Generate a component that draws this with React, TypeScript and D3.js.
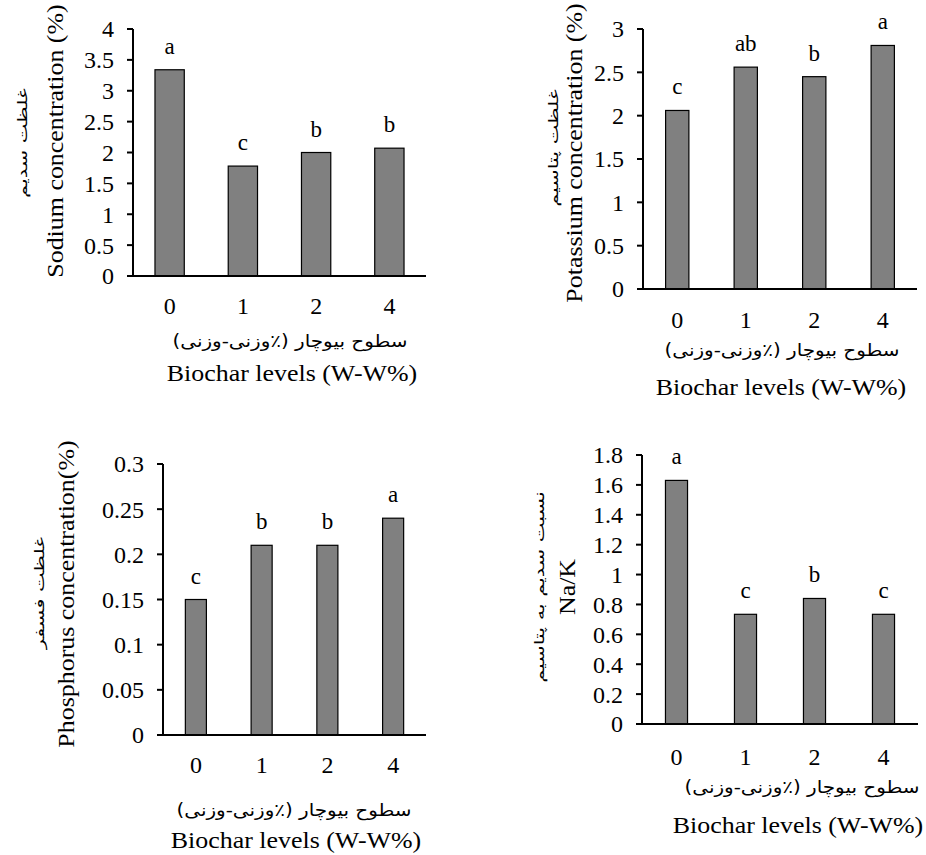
import React from "react";
import * as d3 from "d3";

const levels = ["0", "1", "2", "4"];

const sodium = [3.34, 1.78, 2.0, 2.07];
const sodiumLetters = ["a", "c", "b", "b"];
const sodiumTicks = [0, 0.5, 1, 1.5, 2, 2.5, 3, 3.5, 4];

const potassium = [2.06, 2.56, 2.45, 2.81];
const potassiumLetters = ["c", "ab", "b", "a"];
const potassiumTicks = [0, 0.5, 1, 1.5, 2, 2.5, 3];

const phosphorus = [0.15, 0.21, 0.21, 0.24];
const phosphorusLetters = ["c", "b", "b", "a"];
const phosphorusTicks = [0, 0.05, 0.1, 0.15, 0.2, 0.25, 0.3];

const naK = [1.63, 0.734, 0.84, 0.734];
const naKLetters = ["a", "c", "b", "c"];
const naKTicks = [0, 0.2, 0.4, 0.6, 0.8, 1, 1.2, 1.4, 1.6, 1.8];

const xTitleFa = "سطوح بیوچار (٪وزنی-وزنی)";
const xTitleEn = "Biochar levels (W-W%)";

interface PanelProps {
  values: number[];
  letters: string[];
  ticks: number[];
  yTitleEn: string;
  yTitleFa: string;
  x0: number;
  x1: number;
  yTop: number;
  yBottom: number;
  padding: number;
  enTitleX: number;
  enTitleY: number;
  faTitleX: number;
  faTitleY: number;
  yEnX: number;
  yEnY: number;
  yFaX: number;
  yFaY: number;
  tickLabelY: number;
}

const serif = "'Liberation Serif', 'Times New Roman', serif";
const arabicFont = "'DejaVu Sans', sans-serif";

function Panel(p: PanelProps) {
  const maxV = p.ticks[p.ticks.length - 1];
  const x = d3
    .scaleBand<string>()
    .domain(levels)
    .range([p.x0, p.x1])
    .paddingInner(p.padding)
    .paddingOuter(p.padding / 2);
  const y = d3.scaleLinear().domain([0, maxV]).range([p.yBottom, p.yTop]);
  return (
    <g>
      {p.values.map((v, i) => (
        <rect
          key={"b" + i}
          x={x(levels[i])}
          y={y(v)}
          width={x.bandwidth()}
          height={y(0) - y(v)}
          fill="#808080"
          stroke="#000"
          strokeWidth={1.2}
        />
      ))}
      {p.values.map((v, i) => (
        <text
          key={"l" + i}
          x={(x(levels[i]) as number) + x.bandwidth() / 2}
          y={y(v) - 16}
          textAnchor="middle"
          fontFamily={serif}
          fontSize={23}
        >
          {p.letters[i]}
        </text>
      ))}
      <line x1={p.x0} x2={p.x0} y1={p.yTop} y2={p.yBottom} stroke="#000" strokeWidth={2} />
      {p.ticks.map((t, i) => (
        <g key={"t" + i}>
          <line x1={p.x0 - 6} x2={p.x0} y1={y(t)} y2={y(t)} stroke="#000" strokeWidth={2} />
          <text x={p.x0 - 19} y={y(t)} dy="0.35em" textAnchor="end" fontFamily={serif} fontSize={24}>
            {String(t)}
          </text>
        </g>
      ))}
      <line x1={p.x0 - 6} x2={p.x1} y1={p.yBottom} y2={p.yBottom} stroke="#000" strokeWidth={2} />
      {levels.map((c, i) => (
        <text
          key={"x" + i}
          x={(x(c) as number) + x.bandwidth() / 2}
          y={p.tickLabelY}
          textAnchor="middle"
          fontFamily={serif}
          fontSize={24}
        >
          {c}
        </text>
      ))}
      <text
        transform={`translate(${p.faTitleX},${p.faTitleY}) scale(1.05,0.9)`}
        textAnchor="middle"
        fontFamily={arabicFont}
        fontSize={19}
        direction="rtl"
      >
        {xTitleFa}
      </text>
      <text
        transform={`translate(${p.enTitleX},${p.enTitleY}) scale(1.08,1)`}
        textAnchor="middle"
        fontFamily={serif}
        fontSize={24}
      >
        {xTitleEn}
      </text>
      <text
        transform={`translate(${p.yEnX},${p.yEnY}) rotate(-90) scale(1.08,1)`}
        textAnchor="middle"
        fontFamily={serif}
        fontSize={24}
      >
        {p.yTitleEn}
      </text>
      <text
        transform={`translate(${p.yFaX},${p.yFaY}) rotate(-90) scale(1.3,0.85)`}
        textAnchor="middle"
        fontFamily={arabicFont}
        fontSize={16}
        direction="rtl"
      >
        {p.yTitleFa}
      </text>
    </g>
  );
}

export default function App() {
  return (
    <svg
      width={926}
      height={855}
      viewBox="0 0 926 855"
      style={{ position: "absolute", left: 0, top: 0, background: "#fff" }}
    >
      <rect x={0} y={0} width={926} height={855} fill="#fff" />
      <Panel
        values={sodium}
        letters={sodiumLetters}
        ticks={sodiumTicks}
        yTitleEn="Sodium concentration (%)"
        yTitleFa="غلظت سدیم"
        x0={133}
        x1={426}
        yTop={29}
        yBottom={276}
        padding={0.6}
        enTitleX={292}
        enTitleY={381}
        faTitleX={290}
        faTitleY={347}
        yEnX={63}
        yEnY={141}
        yFaX={27}
        yFaY={143}
        tickLabelY={314}
      />
      <Panel
        values={potassium}
        letters={potassiumLetters}
        ticks={potassiumTicks}
        yTitleEn="Potassium concentration (%)"
        yTitleFa="غلظت پتاسیم"
        x0={643}
        x1={917}
        yTop={29}
        yBottom={289}
        padding={0.66}
        enTitleX={781}
        enTitleY={395}
        faTitleX={782}
        faTitleY={356}
        yEnX={582}
        yEnY={153}
        yFaX={558}
        yFaY={148}
        tickLabelY={328}
      />
      <Panel
        values={phosphorus}
        letters={phosphorusLetters}
        ticks={phosphorusTicks}
        yTitleEn="Phosphorus concentration(%)"
        yTitleFa="غلظت فسفر"
        x0={163}
        x1={426}
        yTop={464}
        yBottom={735}
        padding={0.68}
        enTitleX={296}
        enTitleY={848}
        faTitleX={294}
        faTitleY={816}
        yEnX={74}
        yEnY={594}
        yFaX={44}
        yFaY={593}
        tickLabelY={773}
      />
      <Panel
        values={naK}
        letters={naKLetters}
        ticks={naKTicks}
        yTitleEn="Na/K"
        yTitleFa="نسبت سدیم به پتاسیم"
        x0={642}
        x1={918}
        yTop={455}
        yBottom={724}
        padding={0.68}
        enTitleX={798}
        enTitleY={833}
        faTitleX={802}
        faTitleY={793}
        yEnX={575}
        yEnY={587}
        yFaX={544}
        yFaY={587}
        tickLabelY={765}
      />
    </svg>
  );
}
